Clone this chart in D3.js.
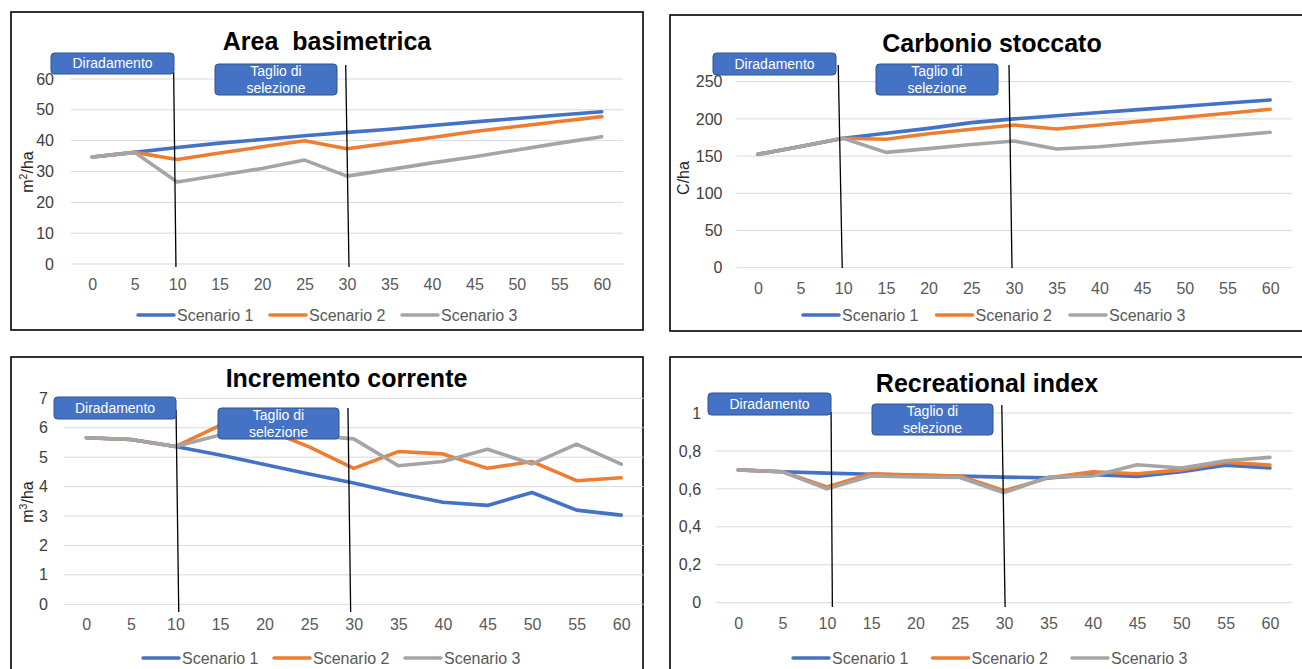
<!DOCTYPE html>
<html>
<head>
<meta charset="utf-8">
<script src="https://cdn.jsdelivr.net/npm/d3@7"></script>
<style>
  html, body { margin: 0; padding: 0; background: #fff; }
  svg { display: block; font-family: Arial, "Liberation Sans", sans-serif; }
</style>
</head>
<body>
<svg id="chart" width="1302" height="669"></svg>
<script>
// Years since start of the simulation (category axis)
const years = [0, 5, 10, 15, 20, 25, 30, 35, 40, 45, 50, 55, 60];
const scenarios = ["Scenario 1", "Scenario 2", "Scenario 3"];
const scenarioColors = ["#4472C4", "#ED7D31", "#A5A5A5"];

// Area basimetrica (m²/ha)
const areaS1 = [34.7, 36.2, 37.8, 39.2, 40.4, 41.6, 42.7, 43.7, 44.9, 46.1, 47.2, 48.3, 49.4];
const areaS2 = [34.7, 36.2, 33.9, 36.0, 38.0, 40.0, 37.4, 39.2, 41.0, 43.0, 44.6, 46.2, 47.8];
const areaS3 = [34.7, 36.2, 26.6, 28.8, 31.0, 33.7, 28.5, 30.6, 32.8, 34.8, 37.0, 39.2, 41.3];
const areaTicks = [0, 10, 20, 30, 40, 50, 60];

// Carbonio stoccato (C/ha)
const carbS1 = [152.4, 163, 174, 180.6, 187.3, 195, 200, 204.3, 208.5, 212.8, 217, 221.3, 225.5];
const carbS2 = [152.4, 163, 174, 172.6, 180, 186, 191.8, 186.4, 191.7, 197, 202.3, 207.6, 212.9];
const carbS3 = [152.4, 163, 174, 155, 160, 165.5, 170.3, 159.5, 162.6, 167.5, 172, 177, 182];
const carbTicks = [0, 50, 100, 150, 200, 250];

// Incremento corrente (m³/ha)
const incrS1 = [5.66, 5.6, 5.36, 5.07, 4.75, 4.43, 4.12, 3.77, 3.47, 3.36, 3.8, 3.2, 3.03];
const incrS2 = [5.66, 5.6, 5.36, 6.08, 5.95, 5.35, 4.62, 5.19, 5.11, 4.62, 4.85, 4.2, 4.3];
const incrS3 = [5.66, 5.6, 5.36, 5.75, 5.8, 5.75, 5.62, 4.71, 4.85, 5.27, 4.77, 5.44, 4.76];
const incrTicks = [0, 1, 2, 3, 4, 5, 6, 7];

// Recreational index
const recrS1 = [0.70, 0.69, 0.683, 0.677, 0.672, 0.667, 0.662, 0.658, 0.675, 0.665, 0.69, 0.725, 0.71];
const recrS2 = [0.70, 0.69, 0.61, 0.68, 0.673, 0.668, 0.59, 0.658, 0.69, 0.68, 0.70, 0.74, 0.725];
const recrS3 = [0.70, 0.69, 0.60, 0.668, 0.663, 0.66, 0.58, 0.662, 0.668, 0.727, 0.71, 0.748, 0.766];
const recrTicks = [0, 0.2, 0.4, 0.6, 0.8, 1];

// Management events marked on every chart
const thinningYear = 10;
const thinningLabel = ["Diradamento"];
const selectionYear = 30;
const selectionLabel = ["Taglio di", "selezione"];

const itFormat = d3.formatLocale({ decimal: ",", thousands: ".", grouping: [3], currency: ["", " €"] }).format("~g");

const panels = [
  {
    title: "Area  basimetrica", yTitle: ["m", "2", "/ha"], series: [areaS1, areaS2, areaS3], ticks: areaTicks,
    frame: [11, 12, 632, 318], left: 71, right: 623, yBottom: 264, yTop: 79,
    titleX: 327, titleY: 50, yTitleX: 27, yTitleY: 172, tickGap: 17,
    legendX: 138, legendY: 315, legendStep: 132,
    events: [
      { year: thinningYear, label: thinningLabel, box: [51, 53, 123, 21], top: 72, bottom: 267, dxTop: -3.5, dxBot: -1.2 },
      { year: selectionYear, label: selectionLabel, box: [215, 64, 122, 31], top: 65, bottom: 267, dxTop: -1.3, dxBot: 2 }
    ]
  },
  {
    title: "Carbonio stoccato", yTitle: ["C/ha"], series: [carbS1, carbS2, carbS3], ticks: carbTicks,
    frame: [670, 15, 650, 316], left: 736.5, right: 1291.5, yBottom: 267.7, yTop: 81.7,
    titleX: 992, titleY: 52, yTitleX: 683, yTitleY: 178, tickGap: 14,
    legendX: 803, legendY: 315, legendStep: 133.5,
    events: [
      { year: thinningYear, label: thinningLabel, box: [713, 53, 123, 22], top: 65, bottom: 268, dxTop: -5, dxBot: -1 },
      { year: selectionYear, label: selectionLabel, box: [876, 64, 122, 31], top: 65, bottom: 268, dxTop: -5, dxBot: -2 }
    ]
  },
  {
    title: "Incremento corrente", yTitle: ["m", "3", "/ha"], series: [incrS1, incrS2, incrS3], ticks: incrTicks,
    frame: [11, 357, 632, 330], left: 64, right: 643.5, yBottom: 604.3, yTop: 398.3,
    titleX: 346.5, titleY: 387, yTitleX: 27, yTitleY: 502, tickGap: 16,
    legendX: 143, legendY: 658, legendStep: 131,
    events: [
      { year: thinningYear, label: thinningLabel, box: [54, 397, 122, 22], top: 410, bottom: 612, dxTop: 0.6, dxBot: 3.3 },
      { year: selectionYear, label: selectionLabel, box: [218, 408, 121, 31], top: 408, bottom: 612, dxTop: -5.8, dxBot: -3.1 }
    ]
  },
  {
    title: "Recreational index", yTitle: null, series: [recrS1, recrS2, recrS3], ticks: recrTicks,
    frame: [670, 357, 650, 330], left: 716.1, right: 1292.1, yBottom: 602.7, yTop: 413,
    titleX: 987, titleY: 392, yTitleX: null, yTitleY: null, tickGap: 15,
    legendX: 793, legendY: 658, legendStep: 139.5,
    events: [
      { year: thinningYear, label: thinningLabel, box: [708, 393, 123, 22], top: 412, bottom: 607, dxTop: 4.2, dxBot: 5.5 },
      { year: selectionYear, label: selectionLabel, box: [872, 404, 121, 31], top: 405, bottom: 607, dxTop: -2.3, dxBot: 1 }
    ]
  }
];

const svg = d3.select("#chart");
svg.append("rect").attr("width", 1302).attr("height", 669).attr("fill", "#fff");

function drawPanel(p) {
  const g = svg.append("g");
  const [fx, fy, fw, fh] = p.frame;

  g.append("rect")
    .attr("x", fx).attr("y", fy).attr("width", fw).attr("height", fh)
    .attr("fill", "#fff").attr("stroke", "#000").attr("stroke-width", 1.6);

  const x = d3.scalePoint().domain(years).range([p.left, p.right]).padding(0.5);
  const yMax = p.ticks[p.ticks.length - 1];
  const y = d3.scaleLinear().domain([0, yMax]).range([p.yBottom, p.yTop]);

  // horizontal gridlines
  g.append("g").selectAll("line").data(p.ticks).join("line")
    .attr("x1", p.left).attr("x2", p.right)
    .attr("y1", d => y(d)).attr("y2", d => y(d))
    .attr("stroke", "#D9D9D9").attr("stroke-width", 1);

  // value axis labels
  const yAxis = g.append("g")
    .attr("transform", `translate(${p.left},0)`)
    .call(d3.axisLeft(y).tickValues(p.ticks).tickSize(0).tickPadding(p.tickGap).tickFormat(itFormat));
  yAxis.select(".domain").remove();
  yAxis.selectAll("text").attr("font-size", 16).attr("fill", "#404040")
    .attr("font-family", "Arial, 'Liberation Sans', sans-serif");

  // category axis labels
  const xAxis = g.append("g")
    .attr("transform", `translate(0,${p.yBottom})`)
    .call(d3.axisBottom(x).tickSize(0).tickPadding(14.5));
  xAxis.select(".domain").remove();
  xAxis.selectAll("text").attr("font-size", 16).attr("fill", "#595959")
    .attr("font-family", "Arial, 'Liberation Sans', sans-serif");

  // title
  g.append("text")
    .attr("x", p.titleX).attr("y", p.titleY)
    .attr("text-anchor", "middle")
    .attr("font-size", 25).attr("font-weight", "bold").attr("fill", "#000")
    .attr("xml:space", "preserve")
    .style("white-space", "pre")
    .text(p.title);

  // value axis title
  if (p.yTitle) {
    const t = g.append("text")
      .attr("transform", `translate(${p.yTitleX},${p.yTitleY}) rotate(-90)`)
      .attr("text-anchor", "middle").attr("dy", "0.35em")
      .attr("font-size", 16).attr("fill", "#262626");
    if (p.yTitle.length === 3) {
      t.append("tspan").text(p.yTitle[0]);
      t.append("tspan").attr("font-size", 10.5).attr("dy", "-6").text(p.yTitle[1]);
      t.append("tspan").attr("dy", "6").text(p.yTitle[2]);
    } else {
      t.text(p.yTitle[0]);
    }
  }

  // scenario lines
  const line = d3.line().x((d, i) => x(years[i])).y(d => y(d));
  g.append("g").selectAll("path").data(p.series).join("path")
    .attr("d", d => line(d))
    .attr("fill", "none")
    .attr("stroke", (d, i) => scenarioColors[i])
    .attr("stroke-width", 3.6)
    .attr("stroke-linejoin", "round")
    .attr("stroke-linecap", "round");

  // management events: marker line + callout box
  p.events.forEach(ev => {
    const xe = x(ev.year);
    g.append("line")
      .attr("x1", xe + ev.dxTop).attr("y1", ev.top)
      .attr("x2", xe + ev.dxBot).attr("y2", ev.bottom)
      .attr("stroke", "#000").attr("stroke-width", 1.3);
    const [bx, by, bw, bh] = ev.box;
    g.append("rect")
      .attr("x", bx).attr("y", by).attr("width", bw).attr("height", bh)
      .attr("rx", 3.5).attr("ry", 3.5)
      .attr("fill", "#4472C4").attr("stroke", "#2F528F").attr("stroke-width", 1);
    const cy = by + bh / 2;
    const lh = 16.5;
    ev.label.forEach((s, i) => {
      g.append("text")
        .attr("x", bx + bw / 2)
        .attr("y", cy + (i - (ev.label.length - 1) / 2) * lh)
        .attr("dy", "0.35em")
        .attr("text-anchor", "middle")
        .attr("font-size", 14).attr("fill", "#fff")
        .text(s);
    });
  });

  // legend
  const lg = g.append("g");
  scenarios.forEach((name, i) => {
    const lx = p.legendX + i * p.legendStep;
    lg.append("line")
      .attr("x1", lx).attr("x2", lx + 36)
      .attr("y1", p.legendY).attr("y2", p.legendY)
      .attr("stroke", scenarioColors[i]).attr("stroke-width", 3.5)
      .attr("stroke-linecap", "round");
    lg.append("text")
      .attr("x", lx + 39).attr("y", p.legendY).attr("dy", "0.35em")
      .attr("font-size", 16).attr("fill", "#595959")
      .text(name);
  });
}

panels.forEach(drawPanel);
</script>
</body>
</html>
